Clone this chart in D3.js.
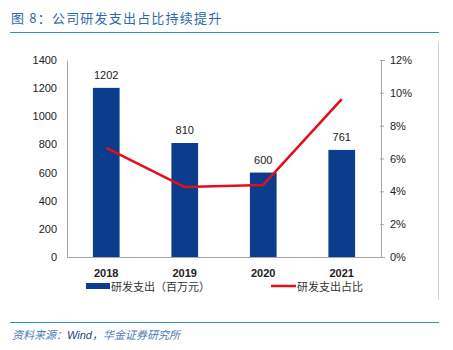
<!DOCTYPE html>
<html><head><meta charset="utf-8">
<script src="https://cdn.jsdelivr.net/npm/d3@7/dist/d3.min.js"></script>
<style>body{margin:0;background:#fff;}svg{display:block;}</style>
</head><body>
<svg id="c" width="453" height="350"></svg>
<script>
const categories = ["2018","2019","2020","2021"];
const spending = [1202, 810, 600, 761];
const ratio = [0.0664, 0.0426, 0.0439, 0.0962];
const leftTicks = [0,200,400,600,800,1000,1200,1400];
const rightTicks = [0,0.02,0.04,0.06,0.08,0.10,0.12];
const titleText = "图 8：公司研发支出占比持续提升";
const barLabel = "研发支出（百万元）";
const lineLabel = "研发支出占比";

(function(){
const svg = d3.select("#c");
const font = "'Noto Sans CJK SC', 'Liberation Sans', sans-serif";
const pL = 67, pR = 381, pT = 60, pB = 257;

// title
svg.append("text").attr("x", 11).attr("y", 23).attr("font-family", font)
  .attr("font-size", 13).attr("fill", "#2e6aa8").attr("letter-spacing", 1.2).text(titleText);
svg.append("line").attr("x1", 10).attr("x2", 439).attr("y1", 32.5).attr("y2", 32.5)
  .attr("stroke", "#2f8fd6").attr("stroke-width", 1.2);
svg.append("line").attr("x1", 438.5).attr("x2", 438.5).attr("y1", 42).attr("y2", 300)
  .attr("stroke", "#d0d0d0").attr("stroke-width", 1);
svg.append("line").attr("x1", 10).attr("x2", 439).attr("y1", 322.5).attr("y2", 322.5)
  .attr("stroke", "#2f8fd6").attr("stroke-width", 1.2);

const x = d3.scaleBand().domain(categories).range([pL, pR]).paddingInner(0.66).paddingOuter(0.33);
const yL = d3.scaleLinear().domain([0, 1400]).range([pB, pT]);
const yR = d3.scaleLinear().domain([0, 0.12]).range([pB, pT]);

const gL = svg.append("g").attr("transform", `translate(${pL},0)`)
  .call(d3.axisLeft(yL).tickValues(leftTicks).tickSize(0).tickPadding(10).tickFormat(d3.format("d")));
gL.select(".domain").attr("stroke", "#a6a6a6");
gL.selectAll("text").attr("font-family", "'Liberation Sans', sans-serif").attr("font-size", 11).attr("fill", "#222");

const gR = svg.append("g").attr("transform", `translate(${pR},0)`)
  .call(d3.axisRight(yR).tickValues(rightTicks).tickSize(4).tickPadding(5).tickFormat(d3.format(".0%")));
gR.select(".domain").attr("stroke", "#a6a6a6");
gR.selectAll(".tick line").attr("stroke", "#a6a6a6").attr("x1", -1).attr("x2", 3);
gR.selectAll("text").attr("font-family", "'Liberation Sans', sans-serif").attr("font-size", 11).attr("fill", "#222");

svg.append("g").selectAll("rect").data(categories).join("rect")
  .attr("x", d => x(d)).attr("width", x.bandwidth())
  .attr("y", (d, i) => yL(spending[i])).attr("height", (d, i) => pB - yL(spending[i]))
  .attr("fill", "#0b3d8c");

svg.append("g").selectAll("text").data(categories).join("text")
  .attr("x", d => x(d) + x.bandwidth() / 2).attr("y", (d, i) => yL(spending[i]) - 9)
  .attr("text-anchor", "middle").attr("font-family", "'Liberation Sans', sans-serif")
  .attr("font-size", 11).attr("fill", "#222").text((d, i) => spending[i]);

svg.append("line").attr("x1", pL).attr("x2", pR).attr("y1", pB + 0.5).attr("y2", pB + 0.5)
  .attr("stroke", "#a6a6a6");

svg.append("g").selectAll("text").data(categories).join("text")
  .attr("x", d => x(d) + x.bandwidth() / 2).attr("y", 277)
  .attr("text-anchor", "middle").attr("font-family", "'Liberation Sans', sans-serif")
  .attr("font-size", 11).attr("font-weight", "bold").attr("fill", "#222").text(d => d);

const line = d3.line().x((d, i) => x(categories[i]) + x.bandwidth() / 2).y(d => yR(d));
svg.append("path").datum(ratio).attr("d", line).attr("fill", "none")
  .attr("stroke", "#e30e1c").attr("stroke-width", 2.5).attr("stroke-linejoin", "round");

svg.append("rect").attr("x", 86).attr("y", 283).attr("width", 24).attr("height", 6).attr("fill", "#0b3d8c");
svg.append("text").attr("x", 111).attr("y", 290.5).attr("font-family", font).attr("font-size", 11)
  .attr("fill", "#333").text(barLabel);
svg.append("line").attr("x1", 271).attr("x2", 296).attr("y1", 286).attr("y2", 286)
  .attr("stroke", "#e30e1c").attr("stroke-width", 2.5);
svg.append("text").attr("x", 297).attr("y", 290.5).attr("font-family", font).attr("font-size", 11)
  .attr("fill", "#333").text(lineLabel);

const src = svg.append("text").attr("x", 12).attr("y", 339).attr("font-family", font)
  .attr("font-size", 11).attr("font-style", "italic");
src.append("tspan").attr("fill", "#4d7ab8").text("资料来源：");
src.append("tspan").attr("fill", "#123f8c").attr("font-family", "'Liberation Sans', sans-serif").text("Wind");
src.append("tspan").attr("fill", "#123f8c").text("，");
src.append("tspan").attr("fill", "#4d7ab8").text("华金证券研究所");
})();
</script>
</body></html>
